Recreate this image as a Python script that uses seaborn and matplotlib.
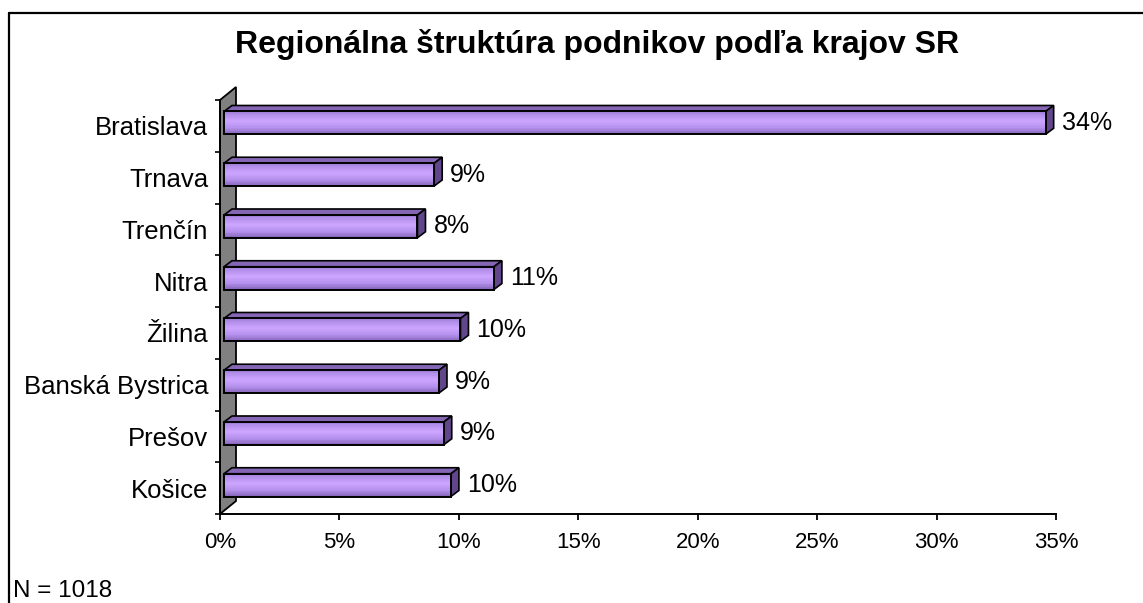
import numpy as np
import pandas as pd
import matplotlib
matplotlib.use("Agg")
import matplotlib.pyplot as plt
import seaborn as sns
from matplotlib.patches import Polygon, Rectangle
from matplotlib.lines import Line2D
import matplotlib.transforms as mtransforms
from matplotlib.colors import to_rgb

# ---- data ----
regions = ["Bratislava", "Trnava", "Trenčín", "Nitra", "Žilina",
           "Banská Bystrica", "Prešov", "Košice"]
shares = [34.4, 8.8, 8.1, 11.3, 9.9, 9.0, 9.2, 9.5]
share_labels = ["34%", "9%", "8%", "11%", "10%", "9%", "9%", "10%"]
x_ticks = [0, 5, 10, 15, 20, 25, 30, 35]
x_tick_labels = ["0%", "5%", "10%", "15%", "20%", "25%", "30%", "35%"]
title = "Regionálna štruktúra podnikov podľa krajov SR"
note = "N = 1018"

sns.set_theme(style="white")
plt.rcParams["font.family"] = ["Liberation Sans", "DejaVu Sans"]

W, H = 1143, 603
fig = plt.figure(figsize=(W / 100, H / 100), dpi=100)
fig.patch.set_facecolor("white")
ax = fig.add_axes([220 / W, 1 - 514 / H, (1056 - 220) / W, (514 - 100) / H])
ax.set_facecolor("none")

df = pd.DataFrame({"region": regions, "share": shares})
sns.barplot(data=df, x="share", y="region", orient="h", width=0.44,
            color="#B48CF0", ax=ax, zorder=6)
bars = list(ax.patches)

ax.set_xlim(0, 35)
ax.set_ylim(7.5, -0.5)

# 3D styling (pixel offsets)
FX, FY = 4, 3      # front face offset from axis plane
DX, DY = 8, 6      # bar depth
WX, WY = 16, 13    # wall depth
ident = mtransforms.IdentityTransform()
T = ax.transData.transform

# wall
fb = T((0, 7.5)); ft = T((0, -0.5))
wall = Polygon([fb, ft, ft + [WX, WY], fb + [WX, WY]], closed=True,
               facecolor="#808080", edgecolor="black", lw=1.3,
               transform=ident, clip_on=False, zorder=1)
ax.add_artist(wall)

grad_pos = [0.0, 0.15, 0.45, 0.75, 1.0]
grad_cols = [to_rgb(c) for c in ["#9373c9", "#b08de8", "#cca5ff", "#b490ec", "#8868bc"]]

def grad_color(t):
    return tuple(np.interp(t, grad_pos, [c[k] for c in grad_cols]) for k in range(3))

off = np.array([FX, FY])
dep = np.array([DX, DY])
for p in bars:
    x0, y0, w, h = p.get_x(), p.get_y(), p.get_width(), p.get_height()
    tl = T((x0, y0)) + off
    tr = T((x0 + w, y0)) + off
    bl = T((x0, y0 + h)) + off
    br = T((x0 + w, y0 + h)) + off
    # top face
    ax.add_artist(Polygon([tl, tr, tr + dep, tl + dep], closed=True,
                          facecolor="#8466b4", edgecolor="black", lw=1.2,
                          transform=ident, clip_on=False, zorder=4))
    # side face
    ax.add_artist(Polygon([tr, br, br + dep, tr + dep], closed=True,
                          facecolor="#61468c", edgecolor="black", lw=1.2,
                          transform=ident, clip_on=False, zorder=4))
    # gradient front
    n = 30
    ytop, ybot = tl[1], bl[1]
    for k in range(n):
        ya = ytop - (ytop - ybot) * k / n
        yb = ytop - (ytop - ybot) * (k + 1) / n
        ax.add_artist(Rectangle((tl[0], yb), tr[0] - tl[0], ya - yb + 0.6,
                                facecolor=grad_color((k + 0.5) / n), edgecolor="none",
                                transform=ident, clip_on=False, zorder=5))
    # outline of front face (seaborn bar)
    p.set_facecolor("none")
    p.set_edgecolor("black")
    p.set_linewidth(1.4)
    p.set_transform(ax.transData + mtransforms.ScaledTranslation(FX / 100, FY / 100, fig.dpi_scale_trans))
    p.set_clip_on(False)

# value labels
for i, (v, lab) in enumerate(zip(shares, share_labels)):
    ax.annotate(lab, xy=(v, i), xytext=(FX + 16, FY), textcoords="offset pixels",
                ha="left", va="center", fontsize=18, color="black",
                annotation_clip=False)

# axes styling
ax.set_xlabel("")
ax.set_ylabel("")
ax.set_xticks(x_ticks, x_tick_labels)
ax.set_yticks(range(len(regions)), regions)
ax.set_yticks(np.arange(-0.5, len(regions), 1), minor=True)
ax.tick_params(axis="y", which="major", length=0, pad=8.5, labelsize=18.5, colors="black")
ax.tick_params(axis="y", which="minor", left=True, length=3.8, width=1.2, color="black")
ax.tick_params(axis="x", which="major", bottom=True, length=4.5, width=1.3, pad=8.5,
               labelsize=16, colors="black")
for s in ["top", "right"]:
    ax.spines[s].set_visible(False)
for s in ["left", "bottom"]:
    ax.spines[s].set_color("black")
    ax.spines[s].set_linewidth(1.4)
ax.grid(False)

# title, note, frame
fig.text(597.5 / W, 1 - 53 / H, title, ha="center", va="baseline",
         fontsize=23, fontweight="bold", color="black")
fig.text(13 / W, 6 / H, note, ha="left", va="baseline", fontsize=17.5, color="black")
fig.add_artist(Line2D([9 / W, 9 / W], [0, 1 - 12.5 / H], transform=fig.transFigure,
                      color="black", lw=1.6))
fig.add_artist(Line2D([9 / W, 1], [1 - 12.5 / H, 1 - 12.5 / H], transform=fig.transFigure,
                      color="black", lw=1.6))

fig.savefig("out.png", dpi=100, facecolor="white")
